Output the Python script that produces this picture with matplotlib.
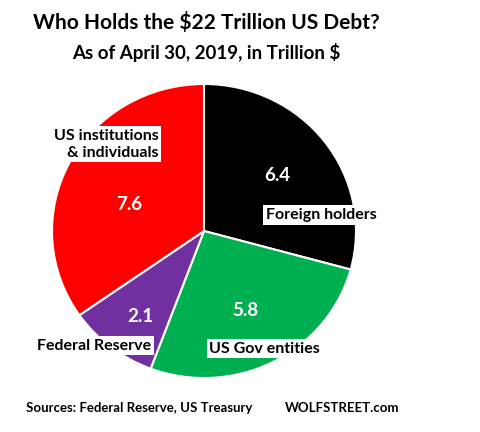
import matplotlib
matplotlib.use("Agg")
import matplotlib.pyplot as plt

plt.rcParams['font.family'] = ['Lato', 'DejaVu Sans']

holders = ['Foreign holders', 'US Gov entities', 'Federal Reserve', 'US institutions\n& individuals']
values = [6.4, 5.8, 2.1, 7.6]
colors = ['#000000', '#00B050', '#7030A0', '#FF0000']

# label spots in pie axes coords (name, value)
name_pos = [(0.77, 0.11), (0.40, -0.80), (-0.72, -0.78), (-0.30, 0.59)]
name_ha = ['center', 'center', 'center', 'right']
value_pos = [(0.48, 0.38), (0.27, -0.54), (-0.42, -0.58), (-0.49, 0.18)]

fig = plt.figure(figsize=(4.8, 4.32), dpi=100)
fig.patch.set_facecolor('white')

ax = fig.add_axes([52 / 480, 1 - 378 / 432, 304 / 480, 294 / 432])
ax.pie(values, colors=colors, startangle=90, counterclock=False, radius=1,
       wedgeprops=dict(edgecolor='white', linewidth=1.5))
ax.set_aspect('auto')
ax.set_xlim(-1, 1)
ax.set_ylim(-1, 1)

for name, v, (nx, ny), ha, (vx, vy) in zip(holders, values, name_pos, name_ha, value_pos):
    ax.text(vx, vy, f'{v}', color='white', fontsize=13.5, fontweight='bold',
            ha='center', va='center')
    ax.text(nx, ny, name, color='black', fontsize=11.5, fontweight='bold',
            ha=ha, va='center', multialignment='right' if ha == 'right' else 'center',
            linespacing=1.25,
            bbox=dict(facecolor='white', edgecolor='none', pad=2))

fig.text(206 / 480, 1 - 22 / 432, 'Who Holds the $22 Trillion US Debt?',
         fontsize=15, fontweight='bold', ha='center', va='center')
fig.text(206 / 480, 1 - 52 / 432, 'As of April 30, 2019, in Trillion $',
         fontsize=13.5, fontweight='bold', ha='center', va='center')
fig.text(26 / 480, 1 - 408 / 432, 'Sources: Federal Reserve, US Treasury',
         fontsize=9.5, fontweight='bold', ha='left', va='center')
fig.text(285 / 480, 1 - 408 / 432, 'WOLFSTREET.com',
         fontsize=9.5, fontweight='bold', ha='left', va='center')

fig.savefig('out.png', dpi=100, facecolor='white')
